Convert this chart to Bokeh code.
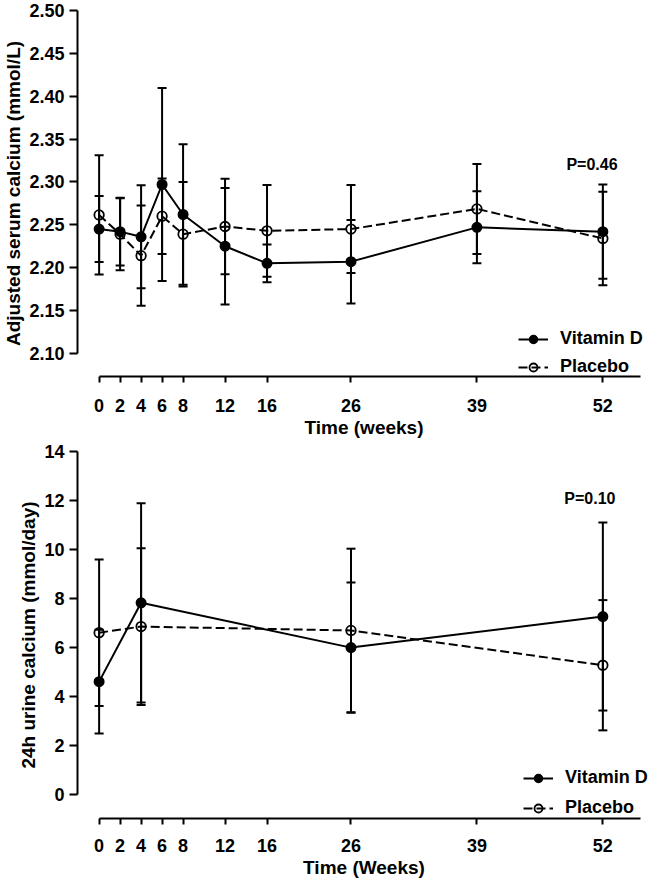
import numpy as np
from bokeh.plotting import figure
from bokeh.layouts import column
from bokeh.models import (Range1d, FixedTicker, ColumnDataSource, Whisker, TeeHead,
                          Legend, LegendItem, Label)
from bokeh.embed import file_html
from bokeh.resources import INLINE

# ---------------- data ----------------
tick_weeks = [0, 2, 4, 6, 8, 12, 16, 26, 39, 52]
tick_units = [0, 1, 2, 3, 4, 6, 8, 12, 18, 24]   # segmented time axis positions
tick_labels = ["0", "2", "4", "6", "8", "12", "16", "26", "39", "52"]

serum_weeks = [0, 2, 4, 6, 8, 12, 16, 26, 39, 52]
vitd_serum = [2.245, 2.242, 2.236, 2.297, 2.262, 2.225, 2.205, 2.207, 2.247, 2.242]
vitd_serum_err = [0.0385, 0.0395, 0.060, 0.1125, 0.082, 0.068, 0.022, 0.0487, 0.042, 0.055]
placebo_serum = [2.2615, 2.239, 2.214, 2.260, 2.239, 2.248, 2.243, 2.245, 2.2685, 2.234]
placebo_serum_err = [0.0695, 0.042, 0.0585, 0.044, 0.061, 0.0558, 0.0535, 0.0513, 0.0525, 0.0546]
serum_yticks = [2.10, 2.15, 2.20, 2.25, 2.30, 2.35, 2.40, 2.45, 2.50]
serum_ylabels = ["2.10", "2.15", "2.20", "2.25", "2.30", "2.35", "2.40", "2.45", "2.50"]

urine_weeks = [0, 4, 26, 52]
vitd_urine = [4.6, 7.82, 5.99, 7.26]
vitd_urine_err = [2.12, 4.07, 2.66, 3.84]
placebo_urine = [6.6, 6.85, 6.69, 5.27]
placebo_urine_err = [2.99, 3.2, 3.34, 2.66]
urine_yticks = [0, 2, 4, 6, 8, 10, 12, 14]
urine_ylabels = ["0", "2", "4", "6", "8", "10", "12", "14"]

FONT = "Liberation Sans"
W = 650


def to_units(weeks):
    return list(np.interp(weeks, tick_weeks, tick_units))


def style_axes(p, ylabel, xlabel, yticks, ylabels, ybounds, xstandoff):
    p.grid.visible = False
    p.outline_line_color = None
    p.background_fill_color = "white"
    p.border_fill_color = "white"
    xa, ya = p.xaxis[0], p.yaxis[0]
    xa.ticker = FixedTicker(ticks=tick_units)
    xa.major_label_overrides = {u: l for u, l in zip(tick_units, tick_labels)}
    xa.bounds = (0, 25.8)
    ya.ticker = FixedTicker(ticks=yticks)
    ya.major_label_overrides = {t: l for t, l in zip(yticks, ylabels)}
    ya.bounds = ybounds
    for ax in (xa, ya):
        ax.axis_line_width = 2
        ax.axis_line_color = "black"
        ax.major_tick_line_width = 2
        ax.major_tick_line_color = "black"
        ax.minor_tick_line_color = None
        ax.major_tick_in = 0
        ax.major_label_text_font = FONT
        ax.major_label_text_font_style = "bold"
        ax.major_label_text_font_size = "18px"
        ax.major_label_text_color = "black"
        ax.axis_label_text_font = FONT
        ax.axis_label_text_font_style = "bold"
        ax.axis_label_text_font_size = "19px"
        ax.axis_label_text_color = "black"
    xa.major_tick_out = 6
    ya.major_tick_out = 8
    xa.major_label_standoff = xstandoff
    ya.major_label_standoff = 5
    xa.axis_label_standoff = 2
    ya.axis_label_standoff = 2
    xa.axis_label = xlabel
    ya.axis_label = ylabel


def add_series(p, weeks, vitd, vitd_err, plac, plac_err, legend_loc, spacing,
               ptext, pxy):
    x = to_units(weeks)
    srcs = []
    for vals, errs in ((vitd, vitd_err), (plac, plac_err)):
        src = ColumnDataSource(dict(x=x, y=vals,
                                    lo=[v - e for v, e in zip(vals, errs)],
                                    hi=[v + e for v, e in zip(vals, errs)]))
        w = Whisker(source=src, base="x", lower="lo", upper="hi",
                    line_color="black", line_width=2, level="underlay",
                    lower_head=TeeHead(size=9, line_width=2, line_color="black"),
                    upper_head=TeeHead(size=9, line_width=2, line_color="black"))
        p.add_layout(w)
        srcs.append(src)
    l1 = p.line("x", "y", source=srcs[0], line_color="black", line_width=2)
    m1 = p.scatter("x", "y", source=srcs[0], marker="circle", size=9.5,
                   fill_color="black", line_color="black", line_width=1.5)
    l2 = p.line("x", "y", source=srcs[1], line_color="black", line_width=2,
                line_dash="9 4")
    m2 = p.scatter("x", "y", source=srcs[1], marker="circle", size=9.5,
                   fill_alpha=0, line_color="black", line_width=1.8)
    leg = Legend(items=[LegendItem(label="Vitamin D", renderers=[l1, m1]),
                        LegendItem(label="Placebo", renderers=[l2, m2])],
                 location=legend_loc, orientation="vertical")
    leg.label_text_font = FONT
    leg.label_text_font_style = "bold"
    leg.label_text_font_size = "18px"
    leg.label_text_color = "black"
    leg.glyph_width = 30
    leg.glyph_height = 20
    leg.label_height = 20
    leg.label_standoff = 12
    leg.spacing = spacing
    leg.padding = 0
    leg.margin = 0
    leg.border_line_color = None
    leg.background_fill_alpha = 0
    p.add_layout(leg, "center")
    p.add_layout(Label(x=pxy[0], y=pxy[1], text=ptext, text_align="right",
                       text_baseline="middle", text_font=FONT,
                       text_font_style="bold", text_font_size="16px",
                       text_color="black"))


top = figure(width=W, height=440, output_backend="svg", toolbar_location=None,
             x_range=Range1d(-1.03, 26.27), y_range=Range1d(2.073, 2.50),
             min_border_left=77, min_border_right=0, min_border_top=10,
             min_border_bottom=53)
style_axes(top, "Adjusted serum calcium (mmol/L)", "Time (weeks)",
           serum_yticks, serum_ylabels, (2.10, 2.50), 16)
add_series(top, serum_weeks, vitd_serum, vitd_serum_err, placebo_serum,
           placebo_serum_err, (441, -1), 7, "P=0.46", (24.7, 2.3205))

bottom = figure(width=W, height=440, output_backend="svg", toolbar_location=None,
                x_range=Range1d(-1.03, 26.27), y_range=Range1d(-0.99, 14),
                min_border_left=77, min_border_right=0, min_border_top=11,
                min_border_bottom=52)
style_axes(bottom, "24h urine calcium (mmol/day)", "Time (Weeks)",
           urine_yticks, urine_ylabels, (0, 14), 14)
add_series(bottom, urine_weeks, vitd_urine, vitd_urine_err, placebo_urine,
           placebo_urine_err, (446, 0), 9, "P=0.10", (24.6, 12.08))

layout = column(top, bottom, spacing=0)
open("out.html", "w").write(file_html(layout, INLINE))
